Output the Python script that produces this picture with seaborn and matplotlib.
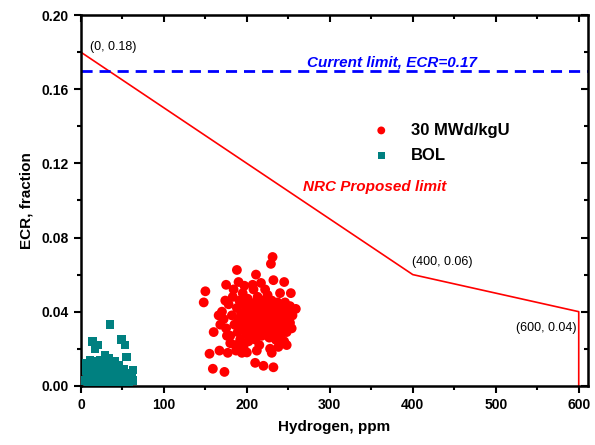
import matplotlib
matplotlib.use("Agg")
import matplotlib.pyplot as plt
import seaborn as sns
import pandas as pd
from matplotlib.ticker import MultipleLocator, FormatStrFormatter

# 30 MWd/kgU points (hydrogen ppm, ECR)
burn_x = [231, 229, 188, 211, 190, 175, 232, 245, 207, 217, 150, 148, 253, 259,
          155, 159, 173, 210, 220, 232, 248, 252, 254, 230, 235, 160, 167, 177, 194,
          170, 172, 175, 178, 180, 182, 183, 185, 186, 188,
          189, 190, 191, 192, 193, 194, 195, 196, 197, 198,
          199, 200, 200, 201, 202, 203, 204, 205, 205, 206,
          207, 208, 208, 209, 210, 210, 211, 212, 213, 213,
          214, 215, 215, 216, 217, 218, 218, 219, 220, 220,
          221, 222, 222, 223, 224, 225, 225, 226, 227, 227,
          228, 229, 230, 230, 231, 232, 233, 234, 235, 236,
          237, 238, 239, 240, 241, 242, 243, 244, 246, 247,
          248, 249, 250, 252, 255, 245, 238, 228, 212, 200,
          187, 180, 176, 168, 166, 174, 184, 197, 222, 240]
burn_y = [0.0695, 0.0658, 0.0625, 0.060, 0.056, 0.0545, 0.057, 0.056, 0.0545, 0.0555,
          0.051, 0.045, 0.050, 0.0415,
          0.0173, 0.0092, 0.0075, 0.0124, 0.0108, 0.010, 0.022, 0.034, 0.031, 0.0178,
          0.0248, 0.029, 0.019, 0.0178, 0.0178,
          0.040, 0.036, 0.031, 0.044, 0.027, 0.038, 0.048, 0.033, 0.022, 0.042,
          0.029, 0.036, 0.046, 0.025, 0.039, 0.032, 0.050, 0.021, 0.035, 0.043,
          0.028, 0.038, 0.031, 0.047, 0.024, 0.040, 0.034, 0.044, 0.027, 0.037,
          0.030, 0.041, 0.052, 0.033, 0.025, 0.045, 0.036, 0.029, 0.040, 0.048,
          0.034, 0.022, 0.038, 0.043, 0.031, 0.037, 0.027, 0.046, 0.033, 0.041,
          0.039, 0.029, 0.035, 0.044, 0.037, 0.031, 0.049, 0.040, 0.026, 0.034,
          0.042, 0.038, 0.030, 0.046, 0.035, 0.040, 0.028, 0.043, 0.033, 0.037,
          0.045, 0.031, 0.040, 0.035, 0.027, 0.042, 0.038, 0.032, 0.045, 0.036,
          0.029, 0.040, 0.034, 0.043, 0.038, 0.024, 0.021, 0.020, 0.019, 0.018,
          0.019, 0.023, 0.027, 0.033, 0.038, 0.046, 0.052, 0.054, 0.052, 0.050]

# BOL points
bol_x = [35, 14, 17, 20, 49, 53, 55, 11, 29, 45, 63, 61, 63,
         5, 6, 7, 8, 9, 10, 11, 12, 13, 14,
         15, 16, 17, 18, 19, 20, 21, 22, 23, 24,
         25, 26, 27, 28, 29, 30, 31, 32, 33, 34,
         35, 36, 37, 38, 39, 40, 41, 42, 44, 45,
         46, 48, 50, 52, 54, 56, 58, 60]
bol_y = [0.033, 0.024, 0.020, 0.022, 0.025, 0.022, 0.0156, 0.014, 0.0167, 0.011, 0.0086, 0.005, 0.003,
         0.003, 0.008, 0.012, 0.005, 0.001, 0.009, 0.004, 0.011, 0.002, 0.007,
         0.013, 0.004, 0.009, 0.002, 0.006, 0.011, 0.003, 0.008, 0.014, 0.005,
         0.001, 0.010, 0.004, 0.007, 0.012, 0.002, 0.006, 0.009, 0.015, 0.003,
         0.007, 0.011, 0.001, 0.005, 0.009, 0.003, 0.013, 0.006, 0.002, 0.008,
         0.004, 0.006, 0.002, 0.009, 0.004, 0.007, 0.002, 0.005]

# NRC proposed limit
limit_x = [0, 400, 600, 600]
limit_y = [0.18, 0.06, 0.04, 0.0]
current_limit = 0.17

sns.set_style("ticks")
plt.rcParams['font.family'] = ['Liberation Sans', 'DejaVu Sans']
plt.rcParams.update({'axes.edgecolor': 'black', 'text.color': 'black',
                     'xtick.color': 'black', 'ytick.color': 'black',
                     'axes.labelcolor': 'black'})

df_burn = pd.DataFrame({'x': burn_x, 'y': burn_y})
df_bol = pd.DataFrame({'x': bol_x, 'y': bol_y})
df_lim = pd.DataFrame({'x': limit_x, 'y': limit_y})

fig = plt.figure(figsize=(5.95, 4.45), dpi=100)
ax = fig.add_axes([0.136, 0.133, 0.852, 0.833])

sns.scatterplot(data=df_burn, x='x', y='y', ax=ax, color='#ff0000', marker='o',
                s=50, edgecolor='none', label='30 MWd/kgU', zorder=3)
sns.scatterplot(data=df_bol, x='x', y='y', ax=ax, color='#008080', marker='s',
                s=38, edgecolor='none', label='BOL', zorder=3)
sns.lineplot(data=df_lim, x='x', y='y', ax=ax, color='#ff0000', lw=1.2,
             sort=False, estimator=None, zorder=2)
ax.axhline(current_limit, color='#0000ff', lw=2, ls=(0, (4, 2.5)), zorder=2)

ax.text(375, 0.1705, 'Current limit, ECR=0.17', color='#0000ff', fontsize=11,
        fontweight='bold', style='italic', ha='center', va='bottom')
ax.text(354, 0.107, 'NRC Proposed limit', color='#ff0000', fontsize=11,
        fontweight='bold', style='italic', ha='center', va='center')
ax.text(11, 0.183, '(0, 0.18)', fontsize=9, ha='left', va='center')
ax.text(399, 0.067, '(400, 0.06)', fontsize=9, ha='left', va='center')
ax.text(597, 0.031, '(600, 0.04)', fontsize=9, ha='right', va='center')

ax.set_xlim(0, 611)
ax.set_ylim(0, 0.20)
ax.xaxis.set_major_locator(MultipleLocator(100))
ax.xaxis.set_minor_locator(MultipleLocator(50))
ax.yaxis.set_major_locator(MultipleLocator(0.04))
ax.yaxis.set_minor_locator(MultipleLocator(0.02))
ax.yaxis.set_major_formatter(FormatStrFormatter('%.2f'))

ax.tick_params(which='both', direction='out', width=1.5, labelsize=10)
ax.tick_params(which='major', length=5)
ax.tick_params(which='minor', length=3)
for lab in ax.get_xticklabels() + ax.get_yticklabels():
    lab.set_fontweight('bold')
for sp in ax.spines.values():
    sp.set_linewidth(1.8)
    sp.set_color('black')

# mirrored inward ticks on top and right
sec_x = ax.secondary_xaxis('top')
sec_y = ax.secondary_yaxis('right')
for sec in (sec_x, sec_y):
    sec.tick_params(which='both', direction='in', width=1.5, labelleft=False,
                    labelright=False, labeltop=False, labelbottom=False)
    sec.tick_params(which='major', length=5)
    sec.tick_params(which='minor', length=3)
sec_x.xaxis.set_major_locator(MultipleLocator(100))
sec_x.xaxis.set_minor_locator(MultipleLocator(50))
sec_y.yaxis.set_major_locator(MultipleLocator(0.04))
sec_y.yaxis.set_minor_locator(MultipleLocator(0.02))

ax.set_xlabel('Hydrogen, ppm', fontsize=11, fontweight='bold', labelpad=6)
ax.set_ylabel('ECR, fraction', fontsize=11, fontweight='bold', labelpad=6)

leg = ax.legend(loc='upper left', bbox_to_anchor=(0.53, 0.75), frameon=False,
                prop={'weight': 'bold', 'size': 12}, handletextpad=0.8,
                labelspacing=0.6, markerscale=0.8)

fig.savefig('out.png', dpi=100)
